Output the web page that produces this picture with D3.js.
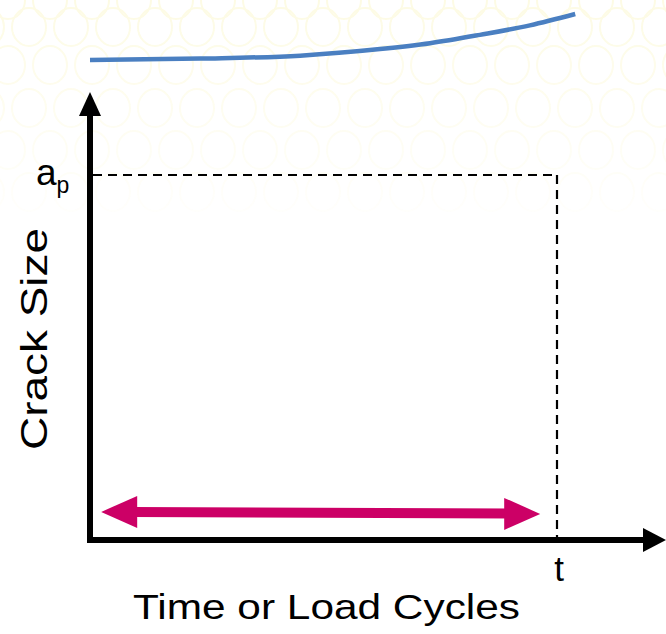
<!DOCTYPE html>
<html><head><meta charset="utf-8">
<script src="https://cdn.jsdelivr.net/npm/d3@7"></script>
<style>html,body{margin:0;padding:0;background:#fff;}svg{display:block;}</style>
</head><body>
<svg id="chart" width="666" height="634"></svg>
<script>
// Data (normalized: t = 1 on time axis, a_p = 1 on crack size axis)
const curveTime  = [0, 0.236, 0.450, 0.621, 0.728, 0.835, 0.942, 1.039];
const curveCrack = [1.315, 1.319, 1.327, 1.345, 1.361, 1.384, 1.410, 1.441];
const tValue = 1;
const apValue = 1;
const tickLabels = ["a", "p", "t"];
const axisTitles = ["Time or Load Cycles", "Crack Size"];
const spanRange = [0.024, 0.964];
const spanLevel = 0.077;

const svg = d3.select("#chart");
const W = 666, H = 634;
const x = d3.scaleLinear().domain([0, 1]).range([90, 557]);
const y = d3.scaleLinear().domain([0, 1]).range([540, 175]);

// faint background pattern
const defs = svg.append("defs");
const grad = defs.append("linearGradient").attr("id","fade").attr("x1",0).attr("y1",0).attr("x2",0).attr("y2",1);
grad.append("stop").attr("offset","0%").attr("stop-color","#fff").attr("stop-opacity",1);
grad.append("stop").attr("offset","100%").attr("stop-color","#fff").attr("stop-opacity",0);
const mask = defs.append("mask").attr("id","m");
mask.append("rect").attr("width",W).attr("height",240).attr("fill","url(#fade)");
const pat = svg.append("g").attr("mask","url(#m)");
const rowsY = [0, 27, 65, 108, 150, 192];
const cols = d3.range(-1, 17);
rowsY.forEach((ry, i) => {
  cols.forEach(c => {
    pat.append("ellipse")
      .attr("cx", c*42 + (i%2 ? 21 : 0) + 8)
      .attr("cy", ry)
      .attr("rx", 17).attr("ry", 19)
      .attr("fill","none").attr("stroke","#fdfbe4").attr("stroke-width",2);
  });
});

// dashed guides
svg.append("line").attr("x1", x(0)+3).attr("x2", x(tValue)).attr("y1", y(apValue)).attr("y2", y(apValue))
  .attr("stroke","#000").attr("stroke-width",2.2).attr("stroke-dasharray","9,6");
svg.append("line").attr("x1", x(tValue)).attr("x2", x(tValue)).attr("y1", y(apValue)).attr("y2", y(0))
  .attr("stroke","#000").attr("stroke-width",2.2).attr("stroke-dasharray","9,6");

// axes
svg.append("line").attr("x1", x(0)).attr("x2", x(0)).attr("y1", y(0)+3).attr("y2", 113)
  .attr("stroke","#000").attr("stroke-width",6);
svg.append("path").attr("d", `M${x(0)-11},116 L${x(0)},92 L${x(0)+11},116 Z`).attr("fill","#000");
svg.append("line").attr("x1", x(0)-3).attr("x2", 645).attr("y1", y(0)).attr("y2", y(0))
  .attr("stroke","#000").attr("stroke-width",6);
svg.append("path").attr("d", `M643,${y(0)-12} L666,${y(0)} L643,${y(0)+12} Z`).attr("fill","#000");

// magenta double arrow
const mc = "#cc0066";
const my = y(spanLevel), xl = x(spanRange[0]), xr = x(spanRange[1]);
svg.append("line").attr("x1", xl+30).attr("x2", xr-30).attr("y1", my).attr("y2", my+1.5)
  .attr("stroke", mc).attr("stroke-width", 10);
svg.append("path").attr("d", `M${xl},${my} L${xl+36},${my-16} L${xl+36},${my+16} Z`).attr("fill", mc);
svg.append("path").attr("d", `M${xr},${my+2} L${xr-36},${my-14} L${xr-36},${my+18} Z`).attr("fill", mc);

// blue curve
const line = d3.line().x((d,i)=>x(curveTime[i])).y((d,i)=>y(curveCrack[i])).curve(d3.curveMonotoneX);
svg.append("path").datum(curveTime).attr("d", line).attr("fill","none")
  .attr("stroke","#4a7fc1").attr("stroke-width",4.5);

// labels
const font = "Liberation Sans, Arial, Helvetica, sans-serif";
const ap = svg.append("text").attr("x", 36).attr("y", 185)
  .attr("font-family", font).attr("font-size", 37).attr("fill","#000");
ap.append("tspan").text(tickLabels[0]);
ap.append("tspan").attr("font-size", 23).attr("dy", 8).attr("dx", 0).text(tickLabels[1]);
svg.append("text").attr("x", x(tValue)+2).attr("y", 581).attr("text-anchor","middle")
  .attr("font-family", font).attr("font-size", 35).attr("fill","#000").text(tickLabels[2]);
svg.append("text").attr("x", 133).attr("y", 619)
  .attr("textLength", 387).attr("lengthAdjust","spacingAndGlyphs")
  .attr("font-family", font).attr("font-size", 35).attr("fill","#000").text(axisTitles[0]);
svg.append("text").attr("transform", `translate(47,450) rotate(-90)`)
  .attr("textLength", 222).attr("lengthAdjust","spacingAndGlyphs")
  .attr("font-family", font).attr("font-size", 37).attr("fill","#000").text(axisTitles[1]);
</script>
</body></html>
